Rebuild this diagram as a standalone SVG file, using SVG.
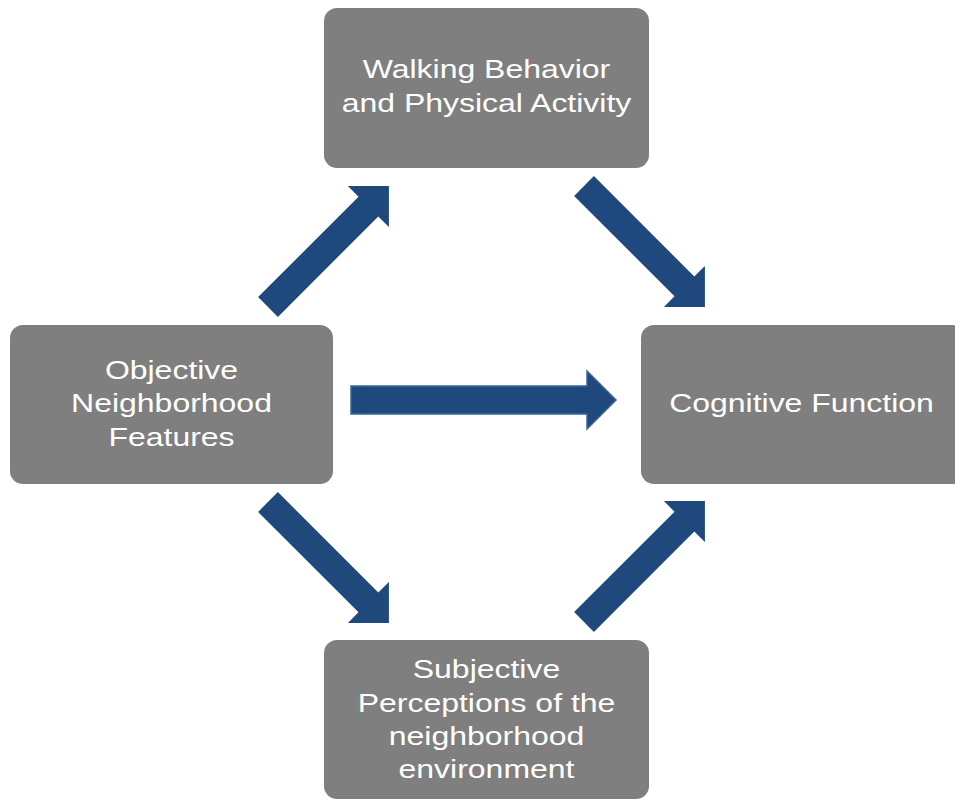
<svg xmlns="http://www.w3.org/2000/svg" width="955" height="800" viewBox="0 0 955 800">
<style>
.box{fill:#7f7f7f;}
.lbl{font-family:"Liberation Sans",Arial,sans-serif;font-size:26px;fill:#ffffff;text-anchor:middle;}
.arr{fill:#1f497d;}
.arrh{fill:#1f497d;stroke:#3a6699;stroke-width:1.5;}
</style>
<defs>
<path id="diag" d="M0,-14 L142,-14 L142,-29 L171,0 L142,29 L142,14 L0,14 Z"/>
</defs>
<rect width="955" height="800" fill="#ffffff"/>
<g id="connectors">
<use href="#diag" class="arr" transform="translate(268,307) rotate(-45)"/>
<use href="#diag" class="arr" transform="translate(584,186) rotate(45)"/>
<use href="#diag" class="arr" transform="translate(268,502) rotate(45)"/>
<use href="#diag" class="arr" transform="translate(584,622) rotate(-45)"/>
<path class="arrh" d="M351,386 L587,386 L587,371 L616,400 L587,429 L587,414 L351,414 Z"/>
</g>
<g id="node-walking">
<rect class="box" x="324" y="8" width="325" height="160" rx="13"/>
<text class="lbl" transform="translate(486.5,0) scale(1.23,1)"><tspan x="0" y="78">Walking Behavior</tspan><tspan x="0" y="112">and Physical Activity</tspan></text>
</g>
<g id="node-objective">
<rect class="box" x="10" y="325" width="323" height="159" rx="13"/>
<text class="lbl" transform="translate(171.5,0) scale(1.23,1)"><tspan x="0" y="379">Objective</tspan><tspan x="0" y="412">Neighborhood</tspan><tspan x="0" y="446">Features</tspan></text>
</g>
<g id="node-cognitive">
<rect class="box" x="641" y="325" width="325" height="159" rx="13"/>
<text class="lbl" transform="translate(801.5,0) scale(1.23,1)"><tspan x="0" y="412">Cognitive Function</tspan></text>
</g>
<g id="node-subjective">
<rect class="box" x="324" y="640" width="325" height="159" rx="13"/>
<text class="lbl" transform="translate(486.5,0) scale(1.23,1)"><tspan x="0" y="678">Subjective</tspan><tspan x="0" y="712">Perceptions of the</tspan><tspan x="0" y="745">neighborhood</tspan><tspan x="0" y="778">environment</tspan></text>
</g>
</svg>
